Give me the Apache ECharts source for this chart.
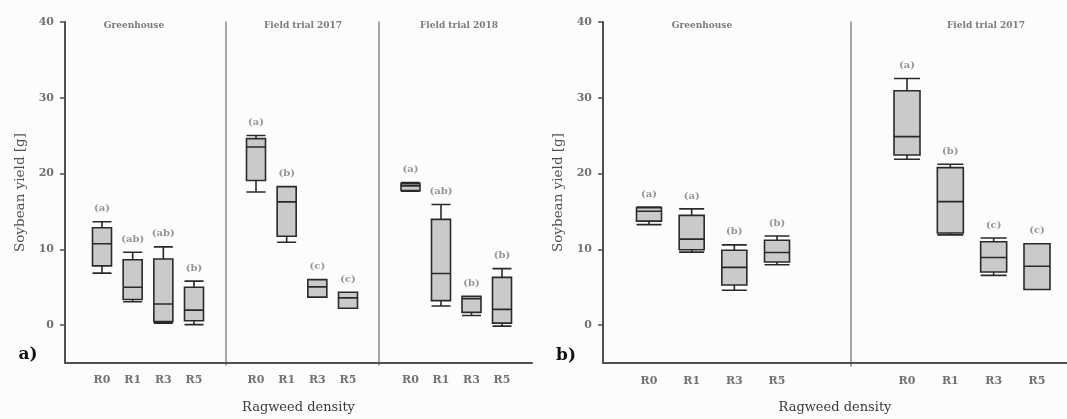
<!DOCTYPE html>
<html>
<head>
<meta charset="utf-8">
<script src="https://cdn.jsdelivr.net/npm/echarts@6/dist/echarts.min.js"></script>
<style>
html,body{margin:0;padding:0;background:#fcfcfa;}
#c{width:1067px;height:419px;}
</style>
</head>
<body>
<div id="c"></div>
<script>
// ---- data ----
const categories = ['R0', 'R1', 'R3', 'R5'];
const yTicks = [0, 10, 20, 30, 40];
const groupNames = ['Greenhouse', 'Field trial 2017', 'Field trial 2018'];
const xTitle = 'Ragweed density';
const yTitle = 'Soybean yield [g]';
// [min, Q1, median, Q3, max]
const aGreenhouse = [[7.05, 8.0, 10.9, 13.0, 13.8], [3.3, 3.6, 5.2, 8.8, 9.8], [0.5, 0.7, 3.0, 8.9, 10.5], [0.3, 0.8, 2.2, 5.2, 6.0]];
const aField2017 = [[17.7, 19.2, 23.6, 24.7, 25.1], [11.1, 11.9, 16.4, 18.4, 18.4], [3.9, 3.9, 5.25, 6.2, 6.2], [2.45, 2.45, 3.8, 4.55, 4.55]];
const aField2018 = [[17.8, 17.9, 18.5, 18.8, 18.95], [2.75, 3.45, 7.0, 14.1, 16.05], [1.5, 1.9, 3.7, 4.0, 4.0], [0.1, 0.5, 2.3, 6.5, 7.65]];
const bGreenhouse = [[13.5, 13.95, 15.25, 15.7, 15.8], [9.9, 10.2, 11.6, 14.7, 15.55], [4.9, 5.6, 7.9, 10.15, 10.85], [8.25, 8.6, 9.85, 11.45, 12.0]];
const bField2017 = [[22.05, 22.6, 25.0, 31.0, 32.6], [12.15, 12.4, 16.5, 20.95, 21.4], [6.85, 7.3, 9.2, 11.25, 11.75], [5.0, 5.0, 8.05, 11.0, 11.0]];
const aGreenhouseLetters = ['(a)', '(ab)', '(ab)', '(b)'];
const aField2017Letters = ['(a)', '(b)', '(c)', '(c)'];
const aField2018Letters = ['(a)', '(ab)', '(b)', '(b)'];
const bGreenhouseLetters = ['(a)', '(a)', '(b)', '(b)'];
const bField2017Letters = ['(a)', '(b)', '(c)', '(c)'];

// ---- styles ----
const FONT = '"DejaVu Serif", serif';
const tickColor = '#727272';
const axisColor = '#505050';
const sepColor = '#8a8a8a';
const boxFill = '#cacaca';
const boxBorder = '#2a2a2a';
const YMIN = -5, YMAX = 40;

const chart = echarts.init(document.getElementById('c'), null, {renderer: 'canvas'});

const grids = [];
const xAxes = [];
const yAxes = [];
const series = [];

function addFrame(left, width, top, height) {
  const gi = grids.length;
  grids.push({left: left, top: top, width: width, height: height});
  xAxes.push({
    gridIndex: gi, type: 'value', min: 0, max: 1,
    axisLine: {show: true, onZero: false, lineStyle: {color: axisColor, width: 2}},
    axisTick: {show: false}, axisLabel: {show: false}, splitLine: {show: false},
    name: xTitle, nameLocation: 'middle', nameGap: 38,
    nameTextStyle: {fontFamily: FONT, fontSize: 13, color: '#3a3a3a'}
  });
  yAxes.push({
    gridIndex: gi, type: 'value', min: YMIN, max: YMAX,
    axisLine: {show: true, onZero: false, lineStyle: {color: axisColor, width: 2}},
    axisTick: {show: true, length: 5, customValues: yTicks, lineStyle: {color: axisColor, width: 1.5}},
    axisLabel: {show: true, customValues: yTicks, margin: 11, fontFamily: FONT, fontWeight: 'bold', fontSize: 11, color: tickColor},
    splitLine: {show: false},
    name: yTitle, nameLocation: 'middle', nameGap: 38, nameRotate: 90,
    nameTextStyle: {fontFamily: FONT, fontSize: 13.5, color: '#505050'}
  });
}

function addGroup(left, width, top, height, sepOffset, boxes, letters, boxWidth) {
  const gi = grids.length;
  grids.push({left: left, top: top, width: width, height: height});
  xAxes.push({
    gridIndex: gi, type: 'category', data: categories, boundaryGap: false,
    axisLine: {show: false, onZero: false}, axisTick: {show: false},
    axisLabel: {show: true, margin: 10, fontFamily: FONT, fontWeight: 'bold', fontSize: 11, color: tickColor},
    splitLine: {show: false}
  });
  yAxes.push({
    gridIndex: gi, type: 'value', min: YMIN, max: YMAX,
    offset: sepOffset == null ? 0 : sepOffset,
    axisLine: {show: sepOffset != null, onZero: false, lineStyle: {color: sepColor, width: 1.5}},
    axisTick: {show: false}, axisLabel: {show: false}, splitLine: {show: false}
  });
  series.push({
    type: 'boxplot', xAxisIndex: gi, yAxisIndex: gi,
    boxWidth: [boxWidth, boxWidth],
    itemStyle: {color: boxFill, borderColor: boxBorder, borderWidth: 1.6},
    data: boxes, silent: true, animation: false
  });
  series.push({
    type: 'scatter', xAxisIndex: gi, yAxisIndex: gi, symbolSize: 0,
    data: boxes.map((b, i) => [categories[i], b[4]]),
    label: {
      show: true, position: 'top', distance: 8,
      formatter: p => letters[p.dataIndex],
      fontFamily: FONT, fontSize: 10, fontWeight: 'bold', color: '#7a7a7a'
    },
    silent: true, animation: false
  });
}

// panel a
addFrame(65, 467, 22, 343);
addGroup(102, 92, 22, 343, null, aGreenhouse, aGreenhouseLetters, 19);
addGroup(256, 92, 22, 343, 30, aField2017, aField2017Letters, 19);
addGroup(410.5, 91.5, 22, 343, 31.5, aField2018, aField2018Letters, 19);
// panel b
addFrame(603, 464, 22, 344);
addGroup(649, 128, 22, 344, null, bGreenhouse, bGreenhouseLetters, 25);
addGroup(907, 130, 22, 344, 56, bField2017, bField2017Letters, 26);

const groupTitle = (x, text) => ({
  type: 'text', x: x, y: 26,
  style: {text: text, textAlign: 'center', textVerticalAlign: 'middle', font: 'bold 9px ' + FONT, fill: '#7a7a7a'}
});

chart.setOption({
  backgroundColor: '#fcfcfa',
  animation: false,
  grid: grids,
  xAxis: xAxes,
  yAxis: yAxes,
  series: series,
  graphic: [
    groupTitle(134, groupNames[0]),
    groupTitle(303, groupNames[1]),
    groupTitle(459, groupNames[2]),
    groupTitle(702, groupNames[0]),
    groupTitle(986, groupNames[1]),
    {type: 'text', x: 28, y: 355, style: {text: 'a)', textAlign: 'center', textVerticalAlign: 'middle', font: 'bold 17px ' + FONT, fill: '#111'}},
    {type: 'text', x: 566, y: 356, style: {text: 'b)', textAlign: 'center', textVerticalAlign: 'middle', font: 'bold 17px ' + FONT, fill: '#111'}}
  ]
});
</script>
</body>
</html>
